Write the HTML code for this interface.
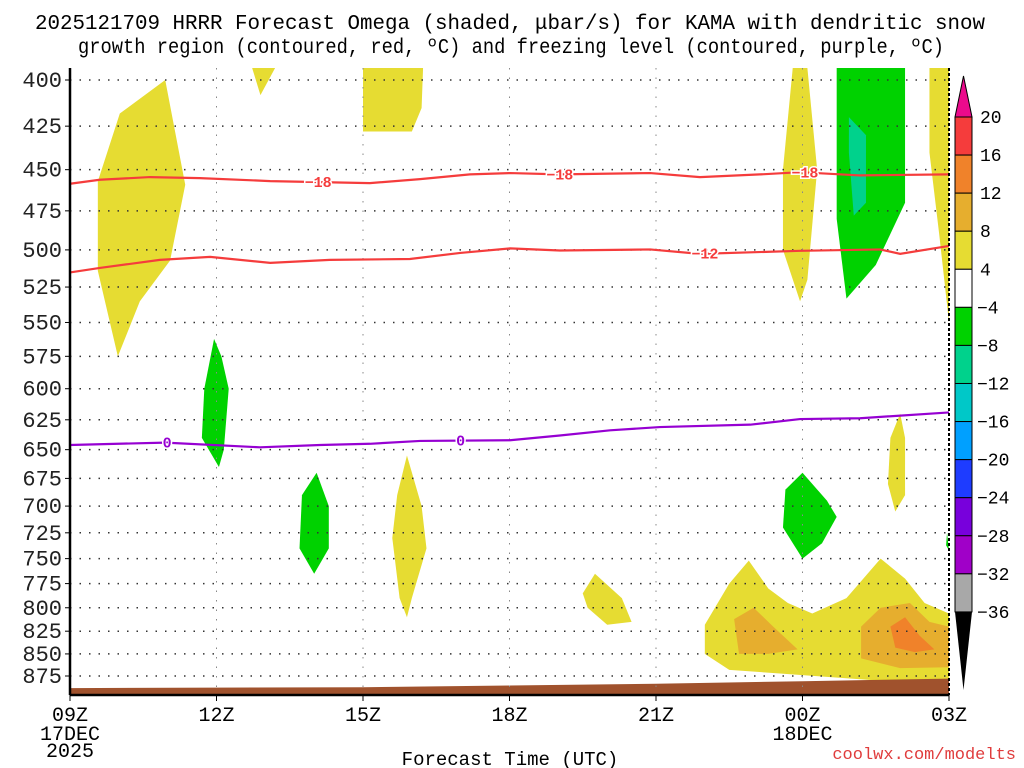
<!DOCTYPE html>
<html><head><meta charset="utf-8"><style>
body{margin:0;background:#fff;}
svg{display:block;font-family:"Liberation Mono","DejaVu Sans Mono",monospace;}
</style></head><body>
<svg id="chart" width="1024" height="768" viewBox="0 0 1024 768">
<text x="35" y="29" font-size="21" textLength="950" lengthAdjust="spacingAndGlyphs">2025121709 HRRR Forecast Omega (shaded, μbar/s) for KAMA with dendritic snow</text>
<text x="78" y="53" font-size="21" textLength="866" lengthAdjust="spacingAndGlyphs">growth region (contoured, red, ºC) and freezing level (contoured, purple, ºC)</text>
<g id="fills"></g><g id="grid"></g><g id="lines"></g><g id="axes"></g><g id="cbar"></g>
<text x="510" y="765" text-anchor="middle" font-size="19">Forecast Time (UTC)</text>
<text x="1016" y="759" text-anchor="end" font-size="17" fill="#e03c3c">coolwx.com/modelts</text>
</svg>
<script>
const xTicks=[0,3,6,9,12,15,18];
const xTickLabels=["09Z","12Z","15Z","18Z","21Z","00Z","03Z"];
const pLevels=[400,425,450,475,500,525,550,575,600,625,650,675,700,725,750,775,800,825,850,875];
const cbLevels=[20,16,12,8,4,-4,-8,-12,-16,-20,-24,-28,-32,-36];
const cbColors=["#f53c3c","#f0822a","#e6ae2e","#e6dc32","#ffffff","#00d200","#00d28c","#00c8c8","#00a0ff","#1e3cff","#7800dc","#a000c8","#a8a8a8"];
const shades=[
 {c:"#e6dc32",pts:[[1.95,400],[2.36,459],[2.05,507],[1.43,535],[0.98,575],[0.57,514],[0.57,457],[1.02,418]]},
 {c:"#e6dc32",pts:[[3.73,393],[4.2,393],[3.9,408]]},
 {c:"#e6dc32",pts:[[6.0,393],[7.23,393],[7.2,415],[7.0,428],[6.0,428]]},
 {c:"#e6dc32",pts:[[14.8,393],[15.1,393],[15.3,450],[15.1,520],[14.95,535],[14.6,500],[14.6,450]]},
 {c:"#e6dc32",pts:[[17.6,393],[18,393],[18,550],[17.8,490],[17.6,440]]},
 {c:"#00d200",pts:[[15.7,393],[17.1,393],[17.1,470],[16.5,510],[15.9,533],[15.7,480]]},
 {c:"#00d28c",pts:[[15.95,420],[16.3,430],[16.3,470],[16.05,478],[15.95,440]]},
 {c:"#00d200",pts:[[2.95,562],[3.1,575],[3.25,600],[3.15,650],[3.05,665],[2.7,640],[2.75,600]]},
 {c:"#00d200",pts:[[5.05,670],[5.3,700],[5.3,740],[5.0,765],[4.7,740],[4.75,690]]},
 {c:"#e6dc32",pts:[[6.9,655],[7.2,700],[7.3,740],[7.0,790],[6.9,810],[6.75,790],[6.6,730],[6.7,690]]},
 {c:"#e6dc32",pts:[[10.75,765],[11.3,790],[11.5,815],[11.0,818],[10.6,800],[10.5,785]]},
 {c:"#e6dc32",pts:[[17.0,620],[17.1,640],[17.1,690],[16.9,705],[16.75,680],[16.8,640]]},
 {c:"#00d200",pts:[[15.0,670],[15.5,695],[15.7,710],[15.4,735],[15.0,750],[14.6,720],[14.65,685]]},
 {c:"#00d200",pts:[[17.96,725],[18,742],[17.94,737]]},
 {c:"#e6dc32",pts:[[13.0,818],[13.5,775],[13.9,752],[14.3,780],[14.7,795],[15.2,806],[15.9,790],[16.6,750],[17.1,770],[17.5,795],[18,806],[18,880],[17,882],[16,878],[14.5,872],[13.5,868],[13.0,850]]},
 {c:"#e6ae2e",pts:[[13.6,812],[14.0,800],[14.4,820],[14.9,845],[14.3,850],[13.7,850]]},
 {c:"#e6ae2e",pts:[[16.2,820],[16.6,800],[17.2,795],[17.6,815],[18,820],[18,865],[17,866],[16.2,855]]},
 {c:"#f0822a",pts:[[16.8,820],[17.1,810],[17.4,830],[17.7,845],[17.3,848],[16.9,843]]}
];
const c18Hours=[0,0.61,1.64,2.66,4.1,6.14,7.17,8.19,9.01,10.03,11.88,12.9,14.13,14.95,16.18,18];
const c18P=[458.4,456,454.4,455,456.8,458,455.6,452.8,452,452.8,452,454.4,452.8,451.5,453.4,452.8];
const c12Hours=[0,0.61,1.84,2.87,4.1,5.32,6.96,7.99,9.01,10.03,11.88,12.9,14.95,16.59,17.0,18];
const c12P=[515,512,506.6,504.6,508.6,506.6,506,502,499,500.4,499.7,502.6,500.6,499.7,502.6,497.4];
const c0Hours=[0,1.95,3.89,5.12,6.14,7.17,9.01,10.03,11.06,12.08,13.93,14.95,16.18,18];
const c0P=[646,644,648,646,645,642.6,642,638,633.7,631,629,624.4,623.7,619];
const groundHours=[0,6,9,12,15,18];
const groundP=[889,888,886,884,881,878];
const X0=70,X1=949,YT=68,YB=695;
const xs=h=>X0+h*(X1-X0)/18;
const ys=p=>80+761.4*Math.log(p/400);
const NS="http://www.w3.org/2000/svg";
function mk(tag,attrs,parent,txt){const e=document.createElementNS(NS,tag);for(const k in attrs)e.setAttribute(k,attrs[k]);if(txt!==undefined)e.textContent=txt;document.getElementById(parent).appendChild(e);return e;}
const clip=v=>Math.max(YT,Math.min(YB,v));
shades.forEach((s,i)=>{
 const e=mk("polygon",{points:s.pts.map(q=>xs(q[0])+","+clip(ys(q[1]))).join(" "),fill:s.c},"fills");
 
 
});
{const pts=groundHours.map((h,i)=>xs(h)+","+ys(groundP[i]));pts.push(X1+","+YB,X0+","+YB);
 const g=mk("polygon",{points:pts.join(" "),fill:"#a0522d"},"fills");
 
 }
pLevels.forEach(p=>{const y=ys(p);
 const l=mk("line",{x1:X0,x2:X1,y1:y,y2:y,stroke:"#333","stroke-dasharray":"1.5,8","stroke-width":1.5},"grid");
 
 
 const t=mk("text",{x:62,y:y+7,"text-anchor":"end","font-size":22,fill:"#222"},"axes",String(p));
 
 
 mk("line",{x1:65,x2:70,y1:y,y2:y,stroke:"#000"},"axes");
});
xTicks.forEach((h,i)=>{const x=xs(h);
 if(i>0&&i<xTicks.length-1){const l=mk("line",{x1:x,x2:x,y1:YT,y2:YB,stroke:"#888","stroke-dasharray":"1.5,8"},"grid");
 
 }
 mk("line",{x1:x,x2:x,y1:YB,y2:YB+6,stroke:"#000"},"axes");
 const t=mk("text",{x:x,y:721,"text-anchor":"middle","font-size":20},"axes",xTickLabels[i]);
 
 
});
[["17DEC",xs(0),740],["2025",xs(0),757],["18DEC",xs(15),740]].forEach(a=>{
 const t=mk("text",{x:a[1],y:a[2],"text-anchor":"middle","font-size":20},"axes",a[0]);
 
 });
mk("line",{x1:X0,x2:X0,y1:YT,y2:YB,stroke:"#000","stroke-width":2.5},"axes");
mk("line",{x1:X1,x2:X1,y1:YT,y2:YB,stroke:"#000","stroke-width":2,"stroke-dasharray":"3,2"},"axes");
mk("line",{x1:X0,x2:X1,y1:YB,y2:YB,stroke:"#000","stroke-width":2.5},"axes");
function contour(hs,ps,col,name,labels,lbl){
 const d=hs.map((h,i)=>(i?"L":"M")+xs(h)+","+ys(ps[i])).join(" ");
 const e=mk("path",{d:d,fill:"none",stroke:col,"stroke-width":2.2},"lines");
 
 
 labels.forEach(h=>{let y=ys(ps[0]);for(let i=1;i<hs.length;i++){if(h<=hs[i]){const f=(h-hs[i-1])/(hs[i]-hs[i-1]);y=ys(ps[i-1]+f*(ps[i]-ps[i-1]));break;}}
  const t=mk("text",{x:xs(h),y:y+5,"text-anchor":"middle","font-size":15,"font-weight":"bold",fill:col,stroke:"#fff","stroke-width":3,"paint-order":"stroke"},"lines",lbl);
  
  });
}
contour(c18Hours,c18P,"#f53c3c","contour-minus18",[5.08,10.03,15.05],"−18");
contour(c12Hours,c12P,"#f53c3c","contour-minus12",[13.0],"−12");
contour(c0Hours,c0P,"#9600d2","freezing-level-contour",[1.99,8.0],"0");
const CBX=955,CBW=17,CBT=117,CBH=38.07;
cbColors.forEach((c,i)=>{const r=mk("rect",{x:CBX,y:CBT+i*CBH,width:CBW,height:CBH,fill:c,stroke:"#000","stroke-width":1},"cbar");
 
 });
const tp=mk("polygon",{points:`${CBX},${CBT} ${CBX+CBW},${CBT} ${CBX+CBW/2},76`,fill:"#eb0a8c",stroke:"#000"},"cbar");


const bt=CBT+cbColors.length*CBH;
const bp=mk("polygon",{points:`${CBX},${bt} ${CBX+CBW},${bt} ${CBX+CBW/2},690`,fill:"#000"},"cbar");


cbLevels.forEach((v,i)=>{const t=mk("text",{x:v<0?977:980,y:CBT+i*CBH+6,"font-size":18},"cbar",v<0?"−"+(-v):String(v));
 
 });
</script>
</body></html>
